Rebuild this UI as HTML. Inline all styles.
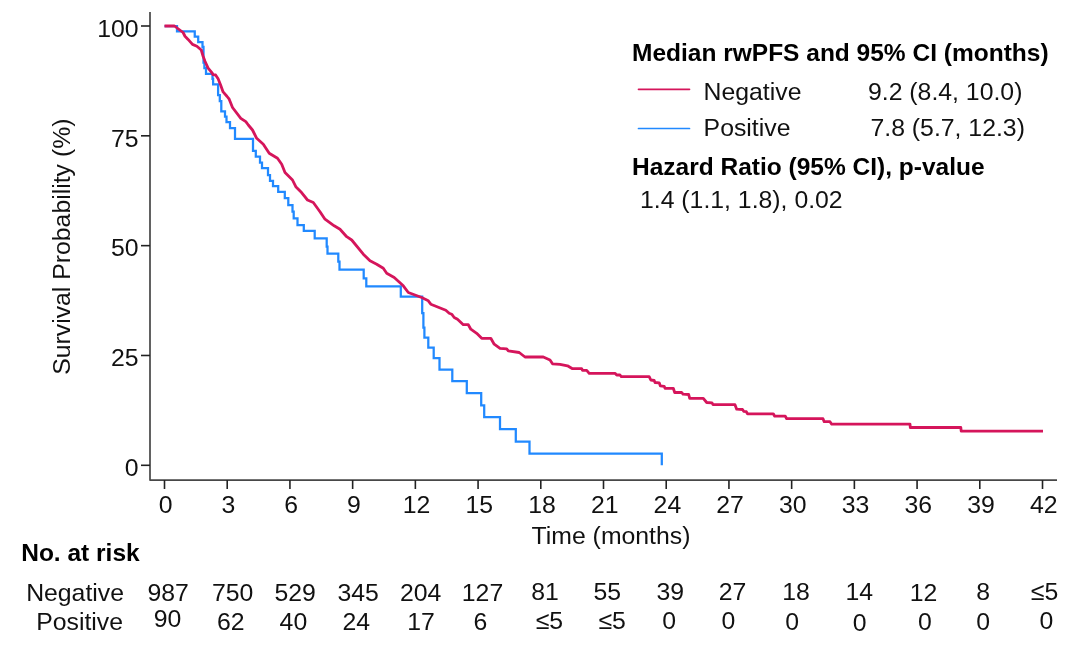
<!DOCTYPE html>
<html><head><meta charset="utf-8"><title>KM</title>
<style>
html,body{margin:0;padding:0;background:#fff;}
svg{display:block;will-change:transform;}
text{font-family:"Liberation Sans",sans-serif;font-size:24.8px;fill:#111;}
.b{font-weight:bold;fill:#000;font-size:24.5px;}
</style></head><body>
<svg width="1080" height="652" viewBox="0 0 1080 652">
<rect width="1080" height="652" fill="#fff"/>
<path d="M164.5 26 H177 V31.25 H194.75 V36.5 H198.2 V42.2 H202.5 V46.9 H203.5 V62.5 H204.4 V68 H206 V73.75 H212.5 V78.75 H213.1 V84.4 H218.1 V95 H219.8 V101 H221.3 V111.3 H225 V116.7 H226.5 V122 H230 V128 H235 V138.8 H253 V150.8 H255.8 V156.7 H260 V162.5 H262 V168 H268 V175 H270 V180.8 H273 V186.2 H278.2 V191.8 H284.8 V198 H288.3 V205 H292.5 V211.7 H293.7 V218.3 H297.5 V225 H303.8 V230.8 H314.7 V238.3 H326.7 V246.7 H327.5 V253.7 H338.3 V261.7 H339.5 V269.5 H363.7 V278.3 H366.3 V286.4 H400.8 V296.7 H422.2 V313 H423.4 V327.5 H424.4 V337.5 H428.3 V347.5 H433.7 V358 H439.5 V369.5 H452.3 V381 H466.8 V393 H481.2 V405.3 H484.2 V417.2 H500 V429.2 H515.8 V441.7 H529.5 V453.5 H661.8 V465.3" fill="none" stroke="#2189FF" stroke-width="2.25" stroke-linejoin="miter"/>
<path d="M164.5 26 L174.5 26 L178.1 28.75 L183.1 32.5 L185 36.25 L188.1 39.4 L192.5 44.4 L196.9 46.25 L201.25 50 L203.1 56.25 L205 61.25 L208.1 68.1 L211.25 71.9 L213.1 74.6 L215.6 75 L218.1 78.75 L220.6 85 L223.1 91.9 L226.9 96.25 L229.2 99.2 L232.5 107.5 L240.8 118.3 L245.8 121.7 L248.3 125 L252.5 130 L256.7 138.3 L263.3 144.2 L269.2 153.3 L277.5 158.3 L281.7 164.2 L285 172.5 L292.5 180 L295.8 186.7 L300.8 191.7 L307.5 200 L313.3 202.5 L320 211.7 L325 219.2 L334.2 225.8 L340 229.2 L346.7 236.7 L351.7 240 L363.3 254.2 L370 260.8 L376.7 264.2 L383.3 268.3 L386.7 273.3 L394.2 277.5 L403.3 285.8 L408.3 292.5 L421.7 297.5 L428.3 300.8 L430.8 304.2 L445.8 310.3 L449.2 313.3 L451.7 314.2 L454.2 317.5 L457.5 319.2 L463.3 324.7 L468.3 324.7 L470.8 329.2 L476.7 333.3 L481.7 338.3 L490.8 338.3 L494.2 344.2 L500 348.3 L506.7 348.8 L508.3 350.8 L519.2 352.5 L525 357 L543.3 357 L550 360 L552.5 363.8 L560 364.3 L567.5 365.8 L572.5 368.7 L581.7 368.7 L582.5 370.3 L586.7 370.3 L589.2 373.3 L615 373.3 L616.7 375 L620 375 L621.3 376.7 L649.2 376.7 L650.8 380 L654.2 380.5 L655 382.5 L659.2 382.8 L660.3 385.8 L664.2 386.3 L665 388.3 L673.3 388.3 L674.7 392.5 L681.7 392.5 L683 394.2 L688.7 394.5 L689.7 398.3 L703.3 398.3 L706.7 402.5 L712 402.8 L713 404.7 L735 404.7 L736.7 409.2 L742.5 409.5 L743.7 411.3 L746.3 411.7 L747.5 413.8 L773.3 413.8 L774.7 416.2 L785.3 416.2 L786.7 418.7 L823 418.7 L824.2 421.7 L830 421.7 L831.7 424.2 L910 424.2 L910.3 427.5 L960.8 427.5 L961.2 431.1 L1043 431.1" fill="none" stroke="#D5155B" stroke-width="2.8" stroke-linejoin="round" stroke-linecap="butt"/>
<path d="M150 12 V480.1 H1057" fill="none" stroke="#474747" stroke-width="1.7" stroke-linejoin="round"/>
<line x1="164.5" y1="480.1" x2="164.5" y2="489" stroke="#222" stroke-width="1.6"/>
<text x="165.7" y="513" text-anchor="middle">0</text>
<line x1="227.215" y1="480.1" x2="227.215" y2="489" stroke="#222" stroke-width="1.6"/>
<text x="228.415" y="513" text-anchor="middle">3</text>
<line x1="289.93" y1="480.1" x2="289.93" y2="489" stroke="#222" stroke-width="1.6"/>
<text x="291.13" y="513" text-anchor="middle">6</text>
<line x1="352.645" y1="480.1" x2="352.645" y2="489" stroke="#222" stroke-width="1.6"/>
<text x="353.845" y="513" text-anchor="middle">9</text>
<line x1="415.36" y1="480.1" x2="415.36" y2="489" stroke="#222" stroke-width="1.6"/>
<text x="416.56" y="513" text-anchor="middle">12</text>
<line x1="478.075" y1="480.1" x2="478.075" y2="489" stroke="#222" stroke-width="1.6"/>
<text x="479.275" y="513" text-anchor="middle">15</text>
<line x1="540.79" y1="480.1" x2="540.79" y2="489" stroke="#222" stroke-width="1.6"/>
<text x="541.99" y="513" text-anchor="middle">18</text>
<line x1="603.505" y1="480.1" x2="603.505" y2="489" stroke="#222" stroke-width="1.6"/>
<text x="604.705" y="513" text-anchor="middle">21</text>
<line x1="666.22" y1="480.1" x2="666.22" y2="489" stroke="#222" stroke-width="1.6"/>
<text x="667.42" y="513" text-anchor="middle">24</text>
<line x1="728.935" y1="480.1" x2="728.935" y2="489" stroke="#222" stroke-width="1.6"/>
<text x="730.135" y="513" text-anchor="middle">27</text>
<line x1="791.65" y1="480.1" x2="791.65" y2="489" stroke="#222" stroke-width="1.6"/>
<text x="792.85" y="513" text-anchor="middle">30</text>
<line x1="854.365" y1="480.1" x2="854.365" y2="489" stroke="#222" stroke-width="1.6"/>
<text x="855.565" y="513" text-anchor="middle">33</text>
<line x1="917.08" y1="480.1" x2="917.08" y2="489" stroke="#222" stroke-width="1.6"/>
<text x="918.28" y="513" text-anchor="middle">36</text>
<line x1="979.795" y1="480.1" x2="979.795" y2="489" stroke="#222" stroke-width="1.6"/>
<text x="980.995" y="513" text-anchor="middle">39</text>
<line x1="1042.51" y1="480.1" x2="1042.51" y2="489" stroke="#222" stroke-width="1.6"/>
<text x="1043.71" y="513" text-anchor="middle">42</text>
<line x1="141" y1="465.3" x2="150" y2="465.3" stroke="#222" stroke-width="1.6"/>
<text x="138.5" y="476.1" text-anchor="end">0</text>
<line x1="141" y1="355.475" x2="150" y2="355.475" stroke="#222" stroke-width="1.6"/>
<text x="138.5" y="366.275" text-anchor="end">25</text>
<line x1="141" y1="245.65" x2="150" y2="245.65" stroke="#222" stroke-width="1.6"/>
<text x="138.5" y="256.45" text-anchor="end">50</text>
<line x1="141" y1="135.825" x2="150" y2="135.825" stroke="#222" stroke-width="1.6"/>
<text x="138.5" y="146.625" text-anchor="end">75</text>
<line x1="141" y1="26" x2="150" y2="26" stroke="#222" stroke-width="1.6"/>
<text x="138.5" y="36.8" text-anchor="end">100</text>
<text x="611" y="543.6" text-anchor="middle">Time (months)</text>
<text transform="translate(69.7 246.7) rotate(-90)" text-anchor="middle">Survival Probability (%)</text>
<text class="b" x="632" y="60.5">Median rwPFS and 95% CI (months)</text>
<line x1="638.5" y1="89.3" x2="689.5" y2="89.3" stroke="#D5155B" stroke-width="1.7" stroke-linecap="round"/>
<line x1="638.5" y1="128.5" x2="689.5" y2="128.5" stroke="#2189FF" stroke-width="1.7" stroke-linecap="round"/>
<text x="703.6" y="99.7">Negative</text>
<text x="703.6" y="136.3">Positive</text>
<text x="868" y="99.7">9.2 (8.4, 10.0)</text>
<text x="870.5" y="136.3">7.8 (5.7, 12.3)</text>
<text class="b" x="632" y="175">Hazard Ratio (95% CI), p-value</text>
<text x="640" y="207.5">1.4 (1.1, 1.8), 0.02</text>
<text class="b" x="21.2" y="561.2">No. at risk</text>
<text x="124" y="600.7" text-anchor="end">Negative</text>
<text x="123" y="629.5" text-anchor="end">Positive</text>
<text x="168.1" y="600.7" text-anchor="middle">987</text>
<text x="232.6" y="600.7" text-anchor="middle">750</text>
<text x="295.1" y="600.5" text-anchor="middle">529</text>
<text x="358.1" y="600.5" text-anchor="middle">345</text>
<text x="420.6" y="600.5" text-anchor="middle">204</text>
<text x="482.5" y="600.5" text-anchor="middle">127</text>
<text x="545" y="600" text-anchor="middle">81</text>
<text x="607.2" y="600" text-anchor="middle">55</text>
<text x="670.2" y="600" text-anchor="middle">39</text>
<text x="732.5" y="600" text-anchor="middle">27</text>
<text x="796" y="600" text-anchor="middle">18</text>
<text x="859.2" y="600.2" text-anchor="middle">14</text>
<text x="923.5" y="601.3" text-anchor="middle">12</text>
<text x="983.1" y="599.8" text-anchor="middle">8</text>
<text x="1044.5" y="600" text-anchor="middle">≤5</text>
<text x="167.5" y="627" text-anchor="middle">90</text>
<text x="230.7" y="629.5" text-anchor="middle">62</text>
<text x="293.4" y="629.5" text-anchor="middle">40</text>
<text x="356.2" y="629.5" text-anchor="middle">24</text>
<text x="421" y="629.5" text-anchor="middle">17</text>
<text x="480.4" y="629.5" text-anchor="middle">6</text>
<text x="549.4" y="629.3" text-anchor="middle">≤5</text>
<text x="612.1" y="629.3" text-anchor="middle">≤5</text>
<text x="669.1" y="629.3" text-anchor="middle">0</text>
<text x="728.4" y="629.3" text-anchor="middle">0</text>
<text x="792.1" y="630" text-anchor="middle">0</text>
<text x="859.6" y="630.7" text-anchor="middle">0</text>
<text x="925" y="629.5" text-anchor="middle">0</text>
<text x="983.1" y="629.8" text-anchor="middle">0</text>
<text x="1046.5" y="629" text-anchor="middle">0</text>
</svg></body></html>
